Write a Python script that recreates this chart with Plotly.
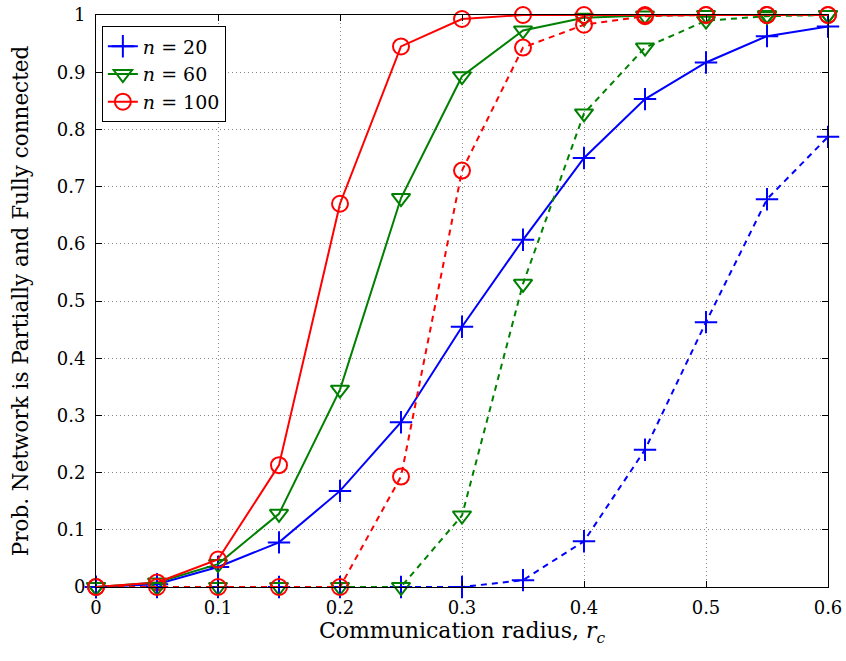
import plotly.graph_objects as go

r = [0, 0.05, 0.1, 0.15, 0.2, 0.25, 0.3, 0.35, 0.4, 0.45, 0.5, 0.55, 0.6]

n20_solid = [0, 0.005, 0.035, 0.078, 0.168, 0.288, 0.455, 0.607, 0.75, 0.853, 0.917, 0.963, 0.98]
n20_dash = [0, 0, 0, 0, 0, 0, 0, 0.012, 0.08, 0.24, 0.463, 0.678, 0.787]
n60_solid = [0, 0.008, 0.04, 0.128, 0.345, 0.68, 0.893, 0.973, 0.995, 0.999, 1, 1, 1]
n60_dash = [0, 0, 0, 0, 0, 0, 0.125, 0.53, 0.828, 0.943, 0.99, 0.998, 1]
n100_solid = [0, 0.008, 0.048, 0.213, 0.67, 0.945, 0.993, 1, 1, 1, 1, 1, 1]
n100_dash = [0, 0, 0, 0, 0, 0.193, 0.728, 0.943, 0.983, 0.998, 1, 1, 1]

labels = ["<i>n</i> = 20", "<i>n</i> = 60", "<i>n</i> = 100"]
colors = ["#0000ff", "#008000", "#ff0000"]
symbols = ["cross-thin-open", "triangle-down-open", "circle-open"]
sizes = [16, 16, 16]

xticks = [0, 0.1, 0.2, 0.3, 0.4, 0.5, 0.6]
xticklabels = ["0", "0.1", "0.2", "0.3", "0.4", "0.5", "0.6"]
yticks = [0, 0.1, 0.2, 0.3, 0.4, 0.5, 0.6, 0.7, 0.8, 0.9, 1]
yticklabels = ["0", "0.1", "0.2", "0.3", "0.4", "0.5", "0.6", "0.7", "0.8", "0.9", "1"]

fig = go.Figure()
solids = [n20_solid, n60_solid, n100_solid]
dashes = [n20_dash, n60_dash, n100_dash]
for i in range(3):
    fig.add_trace(go.Scatter(
        x=r, y=solids[i], mode="lines+markers", name=labels[i],
        line=dict(color=colors[i], width=2),
        marker=dict(symbol=symbols[i], size=sizes[i], color=colors[i],
                    line=dict(color=colors[i], width=2)),
        cliponaxis=False,
    ))
for i in range(3):
    fig.add_trace(go.Scatter(
        x=r, y=dashes[i], mode="lines+markers", showlegend=False,
        line=dict(color=colors[i], width=2, dash="6px,5px"),
        marker=dict(symbol=symbols[i], size=sizes[i], color=colors[i],
                    line=dict(color=colors[i], width=2)),
        cliponaxis=False,
    ))

font = "DejaVu Serif, Liberation Serif, serif"
axis_common = dict(
    showgrid=True, gridcolor="#8a8a8a", griddash="1px,3px", gridwidth=1,
    showline=True, linecolor="black", linewidth=1, mirror="ticks",
    ticks="inside", ticklen=6, tickcolor="black", zeroline=False,
    tickfont=dict(family=font, size=18), automargin=False,
)
fig.update_layout(
    width=846, height=661,
    margin=dict(l=96, r=18, t=15, b=74),
    paper_bgcolor="white", plot_bgcolor="white",
    font=dict(family=font, size=18, color="black"),
    legend=dict(x=0.008, y=0.98, xanchor="left", yanchor="top",
                bordercolor="black", borderwidth=1, bgcolor="white",
                font=dict(family=font, size=19), tracegroupgap=0,
                entrywidth=95),
    xaxis=dict(range=[0, 0.6], tickvals=xticks, ticktext=xticklabels,
               ticklabelstandoff=4,
               title=dict(text="Communication radius, <i>r<sub>c</sub></i>",
                          font=dict(family=font, size=22), standoff=6),
               **axis_common),
    yaxis=dict(range=[0, 1], tickvals=yticks, ticktext=yticklabels,
               ticklabelstandoff=6,
               title=dict(text="Prob. Network is Partially and Fully connected",
                          font=dict(family=font, size=21.5), standoff=22),
               **axis_common),
)

fig.write_html("out.html")
